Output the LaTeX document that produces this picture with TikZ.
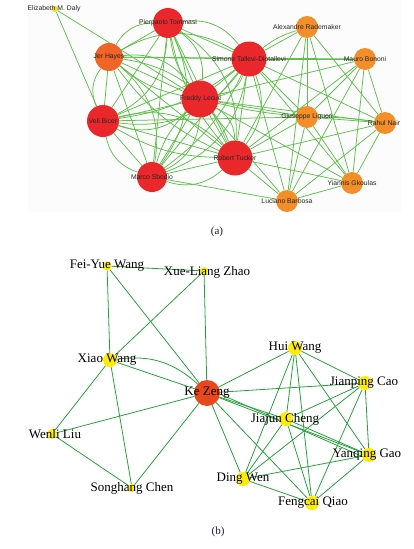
\documentclass[tikz,border=0pt]{standalone}
\usepackage{fontspec}
\setmainfont{Liberation Serif}
\newfontfamily\arialf{Liberation Sans}
\definecolor{ered}{RGB}{234,40,44}
\definecolor{eorred}{RGB}{240,100,40}
\definecolor{eorange}{RGB}{243,142,40}
\definecolor{eyel}{RGB}{245,222,30}
\definecolor{byel}{RGB}{255,236,0}
\definecolor{bke}{RGB}{232,72,28}
\definecolor{agreen}{RGB}{96,190,76}
\definecolor{bgreen}{RGB}{38,162,58}
\definecolor{capcol}{RGB}{28,28,60}
\pgfdeclarelayer{back}
\pgfdeclarelayer{bg}
\pgfsetlayers{back,bg,main}
\tikzset{
  an/.style={circle,inner sep=0pt,draw=none},
  alab/.style={font=\arialf\fontsize{6.8}{8}\selectfont,text=black!85,inner sep=0pt},
  blab/.style={font=\fontsize{13}{15}\selectfont,text=black,inner sep=0pt},
  ea/.style={draw=agreen,line width=0.75pt},
  eb/.style={draw=bgreen,line width=0.8pt},
  captxt/.style={font=\fontsize{11}{13}\selectfont,text=capcol}
}
\begin{document}
\begin{tikzpicture}[x=1pt,y=-1pt]
\useasboundingbox (0,0) rectangle (414,549);
\begin{pgfonlayer}{back}
\fill[black!1] (28,0) rectangle (401,212);
\end{pgfonlayer}
% ---------- panel (a) nodes ----------
\node[an,fill=eyel,minimum size=6pt] (E) at (55,9) {};
\node[an,fill=ered,minimum size=30pt] (P) at (168,23) {};
\node[an,fill=eorred,minimum size=28pt] (J) at (109,57) {};
\node[an,fill=ered,minimum size=35pt] (S) at (249,59) {};
\node[an,fill=ered,minimum size=37pt] (F) at (200,99) {};
\node[an,fill=ered,minimum size=32pt] (V) at (103,121) {};
\node[an,fill=ered,minimum size=35pt] (R) at (235,158) {};
\node[an,fill=ered,minimum size=30pt] (M) at (152,177) {};
\node[an,fill=eorange,minimum size=22pt] (A) at (307,27) {};
\node[an,fill=eorange,minimum size=22pt] (Mb) at (365,59) {};
\node[an,fill=eorange,minimum size=22pt] (G) at (307,117) {};
\node[an,fill=eorange,minimum size=22pt] (N) at (385,123) {};
\node[an,fill=eorange,minimum size=22pt] (Y) at (352,183) {};
\node[an,fill=eorange,minimum size=22pt] (L) at (287,201) {};
\begin{pgfonlayer}{bg}
\foreach \a/\b in {P/S,S/R,R/M,M/V,V/J,J/P,P/F,P/R,P/M,P/V,J/S,J/F,J/R,J/M,S/F,S/V,S/M,F/V,F/R,F/M,V/R}{
  \draw[ea] (\a) -- (\b);
  \draw[ea] (\a) to[bend left=30] (\b);
}
\foreach \a/\b in {P/F,J/R,V/S,M/S,P/R,J/F,V/R,F/M}{
  \draw[ea] (\a) to[bend right=14] (\b);
}
\foreach \a/\b in {S/A,S/Mb,S/G,S/N,S/Y,S/L,F/G,F/N,F/Mb,F/L,F/Y,R/G,R/N,R/Y,R/L,R/A,R/Mb,M/L,J/Mb,V/G}{
  \draw[ea] (\a) -- (\b);
}
\draw[ea] (S) to[bend left=10] (A);
\draw[ea] (F) to[bend right=4] (G);
\foreach \a/\b in {A/G,A/N,A/Y,A/L,Mb/G,Mb/N,Mb/Y,Mb/L,G/N,G/Y,G/L,N/Y,N/L,Y/L}{
  \draw[ea] (\a) -- (\b);
}
\draw[ea] (G) to[bend left=4] (N);
\draw[ea] (E) -- (F);
\draw[ea] (E) -- (V);
\end{pgfonlayer}
% labels (a)
\node[alab] at (54,9) {Elizabeth M. Daly};
\node[alab] at (168,23) {Pierpaolo Tommasi};
\node[alab] at (109,57) {Jer Hayes};
\node[alab] at (249,59) {Simone Tallevi-Diotallevi};
\node[alab] at (201,99) {Freddy Lecue};
\node[alab] at (103,121) {Veli Bicer};
\node[alab] at (235,158) {Robert Tucker};
\node[alab] at (152,177) {Marco Sbodio};
\node[alab] at (307,27) {Alexandre Rademaker};
\node[alab] at (365,59) {Mauro Bononi};
\node[alab] at (307,117) {Giuseppe Liguori};
\node[alab] at (384,123) {Rahul Nair};
\node[alab] at (352,183) {Yiannis Gkoulas};
\node[alab] at (287,201) {Luciano Barbosa};
\node[captxt] (capa) at (217,232) {(a)};
% ---------- panel (b) nodes ----------
\node[an,fill=byel,minimum size=9pt] (FW) at (107,266) {};
\node[an,fill=byel,minimum size=8pt] (XZ) at (204,271) {};
\node[an,fill=byel,minimum size=14pt] (XW) at (110,360) {};
\node[an,fill=bke,minimum size=26pt] (KZ) at (207,393) {};
\node[an,fill=byel,minimum size=10pt] (WL) at (52,434) {};
\node[an,fill=byel,minimum size=8pt] (SC) at (132,488) {};
\node[an,fill=byel,minimum size=14pt] (HW) at (295,348) {};
\node[an,fill=byel,minimum size=14pt] (JC) at (365,383) {};
\node[an,fill=byel,minimum size=14pt] (JJ) at (286,419) {};
\node[an,fill=byel,minimum size=14pt] (YG) at (369,455) {};
\node[an,fill=byel,minimum size=14pt] (DW) at (243,479) {};
\node[an,fill=byel,minimum size=14pt] (FQ) at (312,503) {};
\begin{pgfonlayer}{bg}
\foreach \a/\b in {FW/XZ,FW/XW,FW/KZ,XZ/XW,XZ/KZ,XW/KZ,XW/WL,XW/SC,WL/KZ,WL/SC,SC/KZ,
  KZ/HW,KZ/JC,KZ/JJ,KZ/YG,KZ/DW,KZ/FQ,
  HW/JC,HW/JJ,HW/YG,HW/DW,HW/FQ,
  JC/JJ,JC/YG,JC/DW,JC/FQ,
  JJ/DW,JJ/FQ,JJ/YG,YG/DW,YG/FQ,DW/FQ}{
  \draw[eb] (\a) -- (\b);
}
\draw[eb] (XW) to[bend left=25] (KZ);
\draw[eb] ([yshift=-1.2pt]KZ.east) -- ([yshift=-1.2pt]YG.west);
\end{pgfonlayer}
% labels (b)
\node[blab] at (107,266) {Fei-Yue Wang};
\node[blab] at (207,272) {Xue-Liang Zhao};
\node[blab] at (107,360) {Xiao Wang};
\node[blab] at (207,393) {Ke Zeng};
\node[blab] at (55,434) {Wenli Liu};
\node[blab] at (132,488) {Songhang Chen};
\node[blab] at (295,348) {Hui Wang};
\node[blab] at (364,383) {Jianping Cao};
\node[blab] at (285,419) {Jiajun Cheng};
\node[blab] at (367,455) {Yanqing Gao};
\node[blab] at (243,479) {Ding Wen};
\node[blab] at (313,503) {Fengcai Qiao};
\node[captxt] (capb) at (218,532) {(b)};
\end{tikzpicture}
\end{document}
